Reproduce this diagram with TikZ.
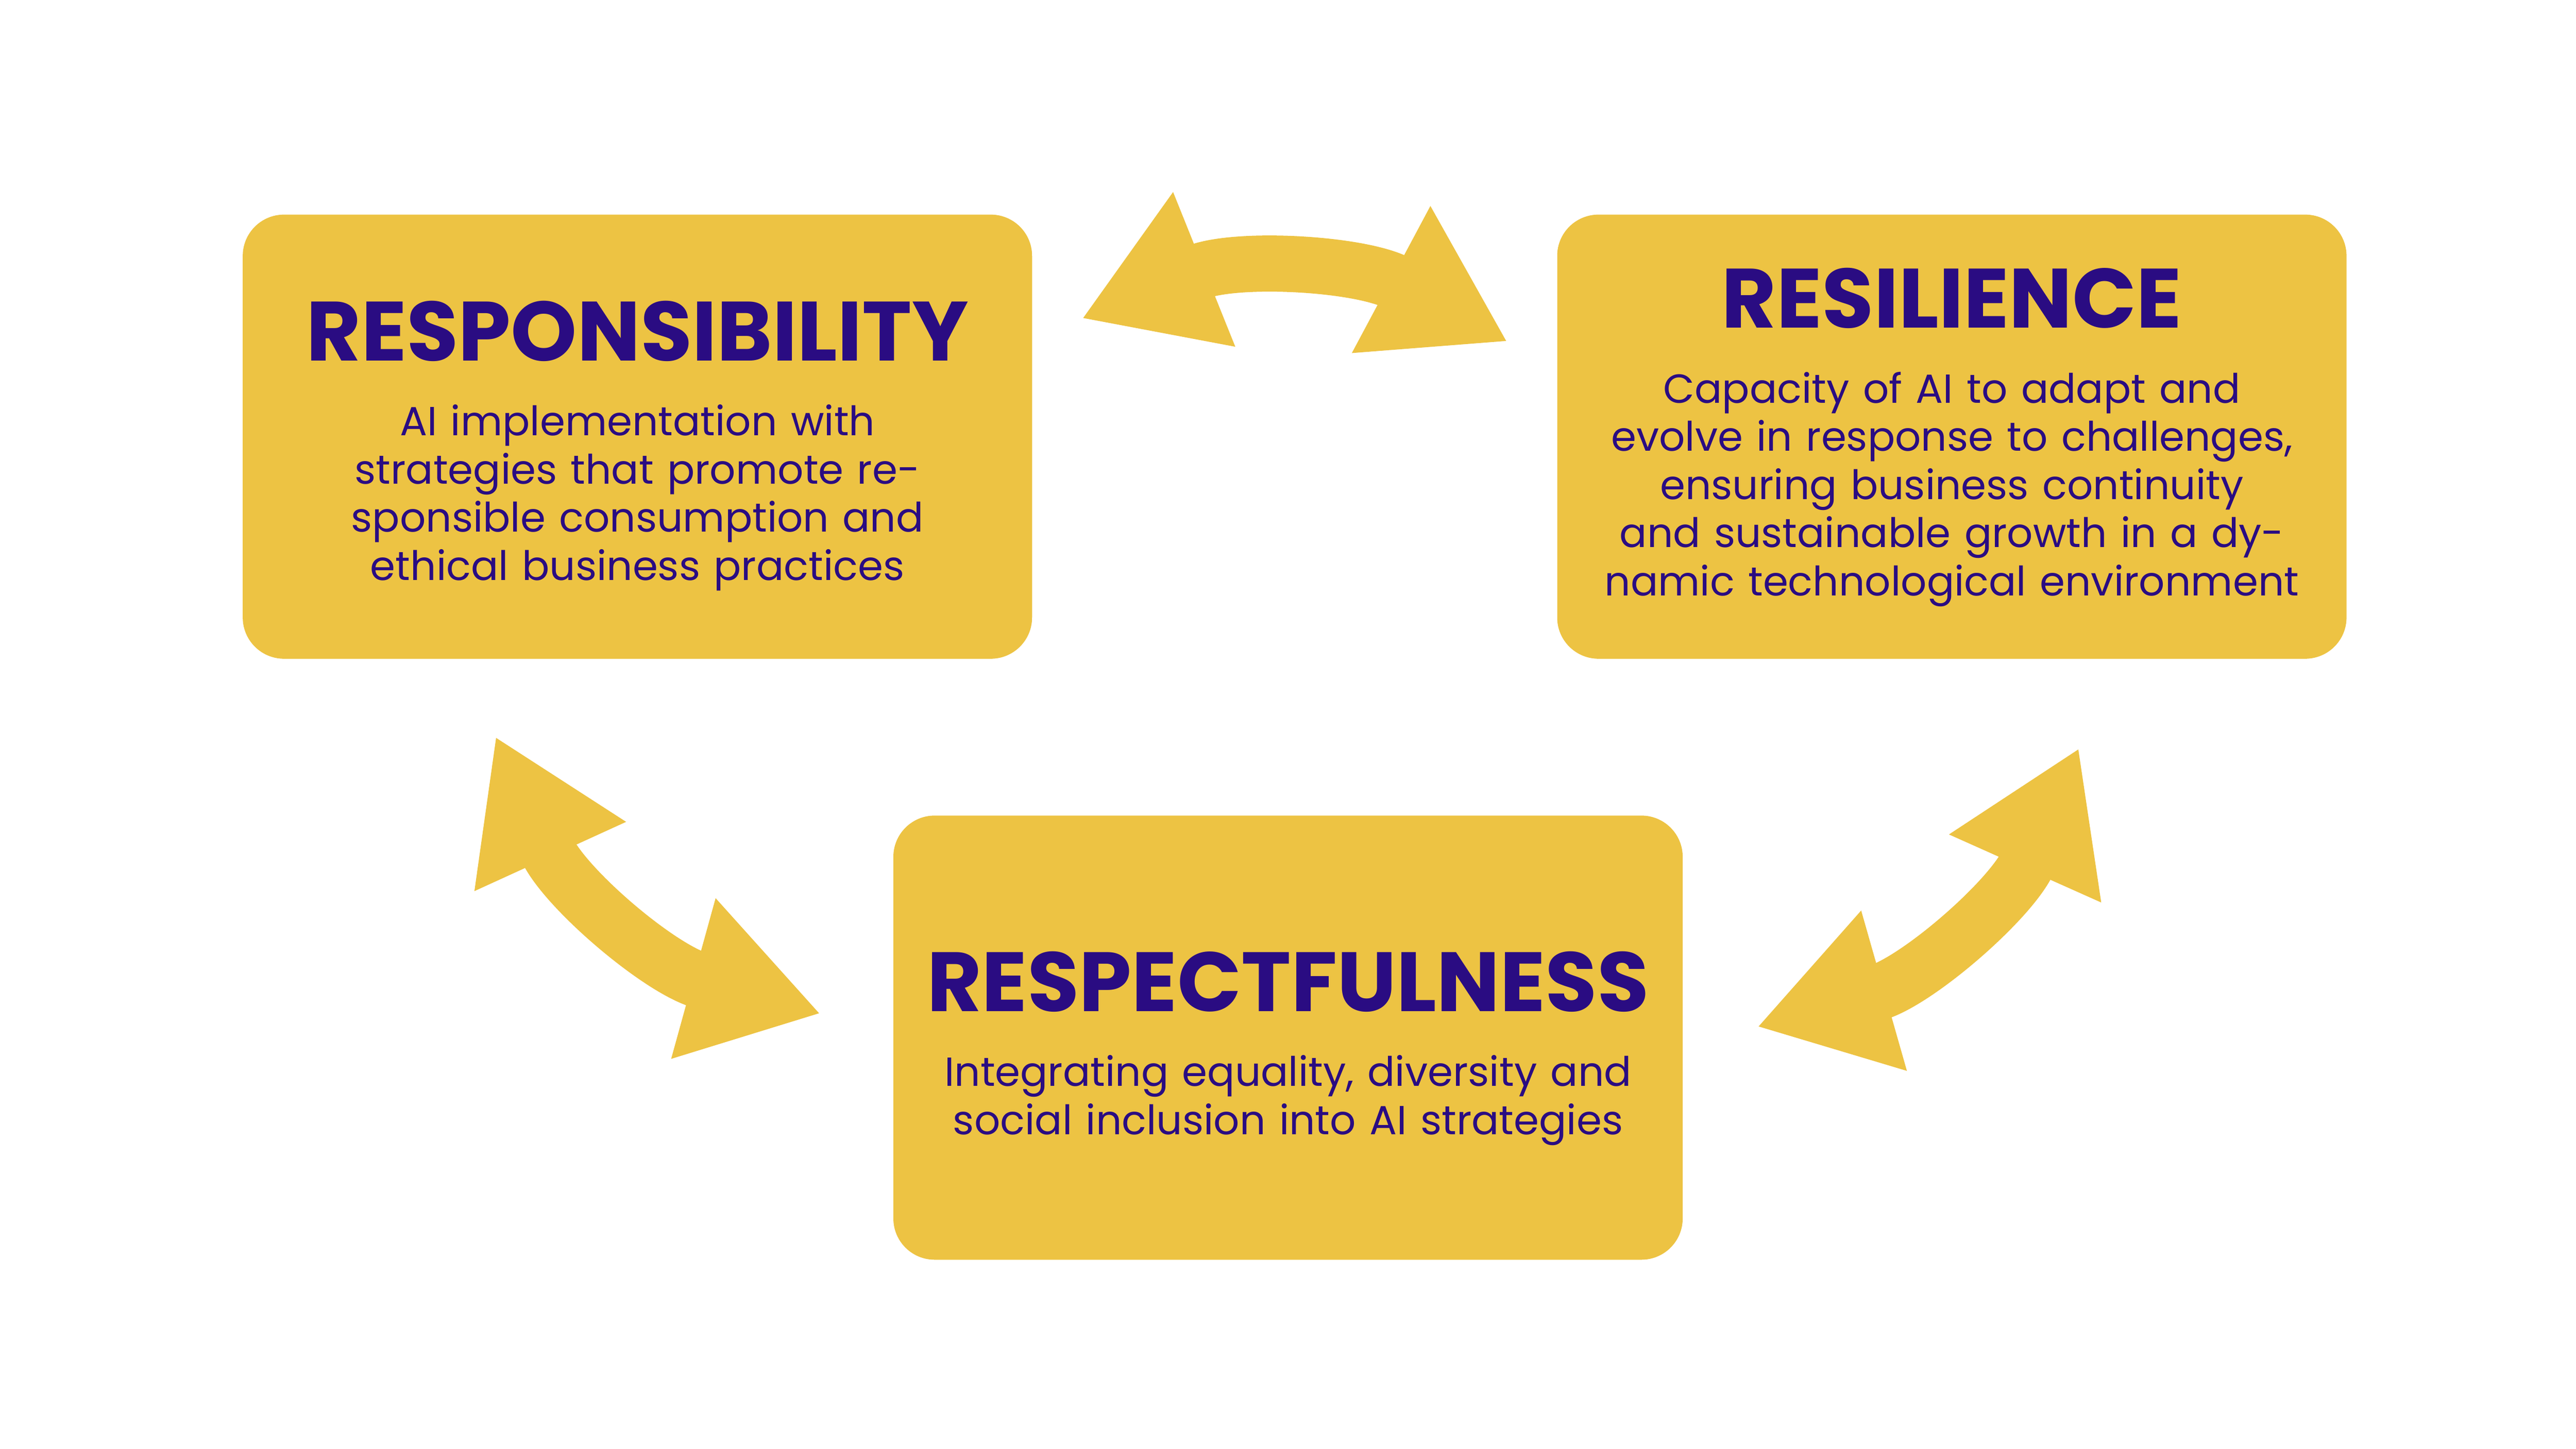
\documentclass[tikz,border=0pt]{standalone}
\usepackage{fontspec}
\setmainfont{Poppins}
\usetikzlibrary{arrows.meta,positioning}
\definecolor{boxgold}{HTML}{EDC343}
\definecolor{inkpurple}{HTML}{2A0C82}
\begin{document}
\begin{tikzpicture}
  \tikzset{card/.style = {shape=rectangle,rounded corners=0.25cm,fill=boxgold,minimum width=4.78cm,minimum height=2.69cm}}
  \tikzset{headline/.style = {text=inkpurple,font=\bfseries\fontsize{14.5}{16}\selectfont,inner sep=0pt}}
  \tikzset{blurb/.style = {text=inkpurple,font=\fontsize{7}{8.3}\selectfont,align=center,text width=4.4cm,inner sep=0pt}}
  \tikzset{swap/.style = {draw=boxgold,line width=0.34cm,{Triangle[length=0.8cm,width=0.95cm]}-{Triangle[length=0.8cm,width=0.95cm]}}}

  \useasboundingbox (0,0) rectangle (15.6,8.775);

	\node[card] (RB) at (3.86,6.13) {};
	\node[card] (RL) at (11.82,6.13) {};
	\node[card] (RF) at (7.80,2.49) {};

	\node[headline] (RBt) at (3.86,6.77) {RESPONSIBILITY};
	\node[blurb,below=0.25cm of RBt] {AI implementation with strategies that promote responsible consumption and ethical business practices};

	\node[headline] (RLt) at (11.82,6.97) {RESILIENCE};
	\node[blurb,below=0.25cm of RLt] {Capacity of AI to adapt and evolve in response to challenges, ensuring business continuity and sustainable growth in a dynamic technological environment};

	\node[headline] (RFt) at (7.80,2.83) {RESPECTFULNESS};
	\node[blurb,below=0.25cm of RFt] {Integrating equality, diversity and social inclusion into AI strategies};

	\coordinate (topA) at (6.55,6.845);
	\coordinate (topB) at (9.13,6.705);
	\coordinate (leftA) at (3.00,4.315);
	\coordinate (leftB) at (4.97,2.635);
	\coordinate (rightA) at (12.59,4.245);
	\coordinate (rightB) at (10.64,2.555);

	\draw[swap] (topA) to[bend left=25] (topB);
	\draw[swap] (leftA) to[bend right=25] (leftB);
	\draw[swap] (rightA) to[bend left=25] (rightB);

\end{tikzpicture}
\end{document}
